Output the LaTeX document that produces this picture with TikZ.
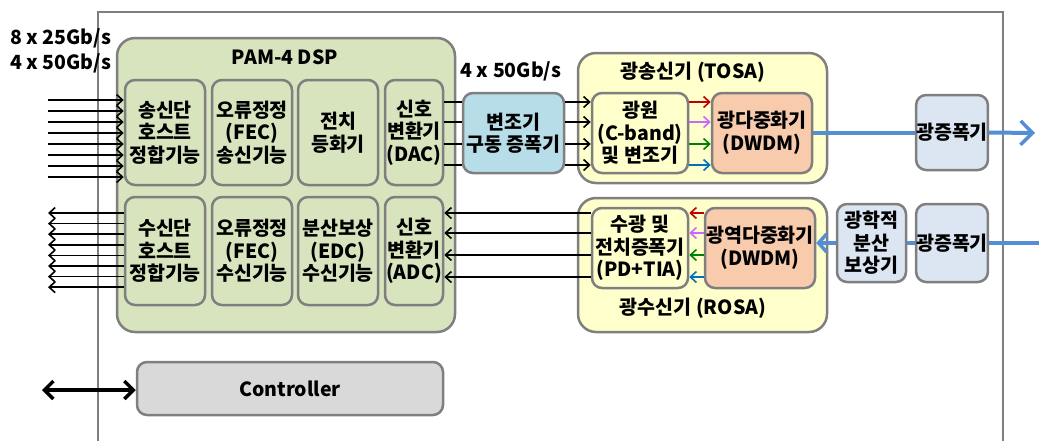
\documentclass[tikz,border=0pt]{standalone}
\usepackage{fontspec}
\setmainfont{Noto Sans CJK KR}
\usetikzlibrary{arrows.meta}
\definecolor{edge}{HTML}{7F7F7F}
\definecolor{dspgreen}{HTML}{D7E4BD}
\definecolor{drvblue}{HTML}{B7DEE8}
\definecolor{osayellow}{HTML}{FFFFCC}
\definecolor{muxpeach}{HTML}{F8CBAD}
\definecolor{ampblue}{HTML}{DCE6F2}
\definecolor{ctrlgray}{HTML}{D9D9D9}
\definecolor{fiber}{HTML}{558ED5}
\definecolor{chred}{HTML}{C00000}
\definecolor{chviolet}{HTML}{CC66FF}
\definecolor{chgreen}{HTML}{008000}
\definecolor{chblue}{HTML}{0070C0}
\tikzset{
  kfont/.style={font=\fontsize{19.5}{22.5}\selectfont\bfseries},
  blk/.style={draw=edge, line width=2.5pt, rounded corners=10pt, align=center,
    inner sep=0pt, kfont},
  big/.style={blk, rounded corners=18pt},
  lbl/.style={inner sep=0pt, kfont},
  sig/.style={line width=1.6pt, -{Straight Barb[length=6pt,width=11pt]}},
  wire/.style={line width=1.6pt},
  fib/.style={line width=4pt, color=fiber},
  fibarr/.style={fib, -{Straight Barb[length=8pt,width=18pt,line width=3.5pt]}},
  fibout/.style={fib, -{Straight Barb[length=12pt,width=24pt,line width=3.5pt]}}
}
\begin{document}
\begin{tikzpicture}[x=1pt,y=-1pt]
\useasboundingbox (0,0) rectangle (1039,440);

% module enclosure
\draw[edge, line width=2.5pt] (98,441) -- (98,12) -- (1003,12) -- (1003,441);

% rate labels
\node[lbl, anchor=west] (rate1) at (10,38) {8 x 25Gb/s};
\node[lbl, anchor=west] (rate2) at (10,63) {4 x 50Gb/s};
\node[lbl] (rate3) at (511,71) {4 x 50Gb/s};

% PAM-4 DSP
\node[big, fill=dspgreen, minimum width=338pt, minimum height=294pt] (dsp) at (286,185) {};
\node[lbl] (dsptitle) at (285,57) {PAM-4 DSP};

\node[blk, fill=dspgreen, minimum width=80pt, minimum height=105pt] (tx1) at (165,132.5) {송신단\\호스트\\정합기능};
\node[blk, fill=dspgreen, minimum width=80pt, minimum height=105pt] (tx2) at (252,132.5) {오류정정\\(FEC)\\송신기능};
\node[blk, fill=dspgreen, minimum width=80pt, minimum height=105pt] (tx3) at (338,132.5) {전치\\등화기};
\node[blk, fill=dspgreen, minimum width=58pt, minimum height=105pt] (tx4) at (414,132.5) {신호\\변환기\\(DAC)};

\node[blk, fill=dspgreen, minimum width=80pt, minimum height=108pt] (rx1) at (165,251) {수신단\\호스트\\정합기능};
\node[blk, fill=dspgreen, minimum width=80pt, minimum height=108pt] (rx2) at (252,251) {오류정정\\(FEC)\\수신기능};
\node[blk, fill=dspgreen, minimum width=80pt, minimum height=108pt] (rx3) at (338,251) {분산보상\\(EDC)\\수신기능};
\node[blk, fill=dspgreen, minimum width=58pt, minimum height=108pt] (rx4) at (414,251) {신호\\변환기\\(ADC)};

% controller
\node[blk, fill=ctrlgray, minimum width=306pt, minimum height=53pt] (ctrl) at (290,388.5) {Controller};
\coordinate (ctrlport) at (42,390);
\draw[line width=3.5pt, {Straight Barb[length=9pt,width=18pt]}-{Straight Barb[length=9pt,width=18pt]}] (ctrlport) -- (ctrlport -| ctrl.west);

% driver
\node[blk, fill=drvblue, minimum width=101pt, minimum height=80pt] (drv) at (513.5,133) {변조기\\구동 증폭기};

% TOSA
\node[big, fill=osayellow, minimum width=249pt, minimum height=130pt] (tosa) at (702.5,118) {};
\node[lbl] (tosatitle) at (693,72) {광송신기 (TOSA)};
\node[blk, fill=osayellow, minimum width=96pt, minimum height=80pt] (src) at (640,133) {광원\\(C-band)\\및 변조기};
\node[blk, fill=muxpeach, minimum width=100pt, minimum height=80pt] (mux) at (762,133) {광다중화기\\(DWDM)};

% ROSA
\node[big, fill=osayellow, minimum width=249pt, minimum height=134pt] (rosa) at (702.5,265) {};
\node[lbl] (rosatitle) at (693,308) {광수신기 (ROSA)};
\node[blk, fill=osayellow, minimum width=96pt, minimum height=80pt] (pd) at (640,248) {수광 및\\전치증폭기\\(PD+TIA)};
\node[blk, fill=muxpeach, minimum width=100pt, minimum height=80pt, text width=110pt] (demux) at (760,248) {광역다중화기\\(DWDM)};

% line-side amplifiers and dispersion compensator
\node[blk, fill=ampblue, minimum width=70pt, minimum height=75pt] (amp1) at (952,132.5) {광증폭기};
\node[blk, fill=ampblue, minimum width=70pt, minimum height=78pt] (amp2) at (952,243) {광증폭기};
\node[blk, fill=ampblue, minimum width=69pt, minimum height=78pt] (dcm) at (871.5,243) {광학적\\분산\\보상기};

% host-side electrical lanes
\foreach \i in {0,...,7}{
  \coordinate (hin\i) at (48,{100+11*\i});
  \draw[sig] (hin\i) -- (hin\i -| tx1.west);
  \coordinate (hout\i) at (48,{213+10.6*\i});
  \draw[sig] (hout\i -| rx1.west) -- (hout\i);
}

% transmit lanes
\foreach \y in {102,122,144,165}{
  \draw[wire] (tx4.east |- {(0,\y)}) -- (drv.west |- {(0,\y)});
  \draw[sig] (drv.east |- {(0,\y)}) -- (src.west |- {(0,\y)});
}
\foreach \y/\c in {102/chred,122/chviolet,144/chgreen,165/chblue}{
  \draw[sig, color=\c] (src.east |- {(0,\y)}) -- (mux.west |- {(0,\y)});
}

% receive lanes
\foreach \y/\c in {213/chred,233/chviolet,255/chgreen,277/chblue}{
  \draw[sig, color=\c] (demux.west |- {(0,\y)}) -- (pd.east |- {(0,\y)});
  \draw[sig] (pd.west |- {(0,\y)}) -- (rx4.east |- {(0,\y)});
}

% fibre path
\coordinate (txout) at (1035,133);
\draw[fib] (mux.east |- amp1.west) -- (amp1.west);
\draw[fibout] (amp1.east) -- (txout);
\coordinate (rxin) at (1039,243);
\draw[fib] (rxin) -- (amp2.east);
\draw[fib] (amp2.west) -- (dcm.east);
\draw[fibarr] (dcm.west) -- (demux.east |- dcm.west);
\end{tikzpicture}
\end{document}
